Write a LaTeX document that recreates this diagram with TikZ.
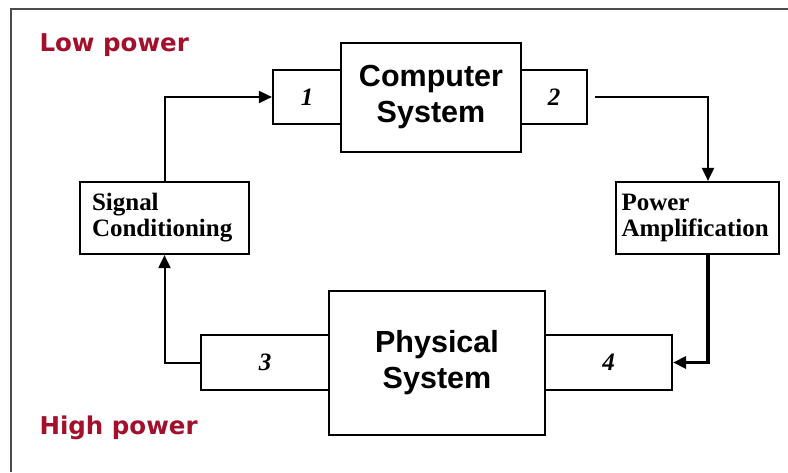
\documentclass[tikz,border=0pt]{standalone}
\usepackage{fontspec}
\setmainfont{Liberation Serif}
\newfontfamily\arialfont{Liberation Sans}
\newfontfamily\notefont{DejaVu Sans}
\usetikzlibrary{arrows.meta,positioning}
\definecolor{powerred}{HTML}{A3102C}

\begin{document}
\begin{tikzpicture}[
    x=1pt, y=-1pt,
    block/.style={rectangle, draw, line width=2.2pt, inner sep=0pt},
    sysblock/.style={block, font=\arialfont\bfseries\fontsize{30.5}{36}\selectfont, align=center},
    port/.style={block, font=\itshape\bfseries\fontsize{25}{28}\selectfont, minimum height=54pt},
    stage/.style={block, font=\bfseries\fontsize{25}{26}\selectfont, align=left, minimum height=72pt},
    note/.style={font=\notefont\bfseries\fontsize{24.5}{28}\selectfont, text=powerred, anchor=west},
    arrow/.style={-{Triangle[length=13pt,width=12pt]}, line width=2pt}
]

\useasboundingbox (0,0) rectangle (788,472);

% Frame
\draw[line width=1.2pt, black!70] (11,472) -- (11,9) -- (788,9);

% Labels
\node[note] (low) at (36,45) {Low power};
\node[note] (high) at (36,428) {High power};

% Blocks
\node[sysblock, minimum width=180pt, minimum height=109pt] (computer) at (431,97.5) {Computer\\System};
\node[port, minimum width=68pt] (port1) at (307,97) {1};
\node[port, minimum width=66pt] (port2) at (554,97) {2};
\node[stage, minimum width=169pt, text width=145pt] (signal) at (164.5,218) {Signal\\Conditioning};
\node[stage, minimum width=163pt, text width=152pt] (power) at (697.5,218) {Power\\Amplification};
\node[sysblock, minimum width=216pt, minimum height=144pt] (physical) at (437,363) {Physical\\System};
\node[port, minimum width=128pt, minimum height=55pt] (port3) at (265,362.5) {3};
\node[port, minimum width=127pt, minimum height=55pt] (port4) at (608.5,362.5) {4};

% Arrows
\draw[arrow] (port3.west) -| (signal.south);
\draw[arrow] (signal.north) |- (port1.west);
\draw[arrow] ([xshift=7pt]port2.east) -| ([xshift=10.5pt]power.north);
\draw[arrow, line width=3.2pt] ([xshift=10.5pt]power.south) |- (port4.east);

\end{tikzpicture}
\end{document}
